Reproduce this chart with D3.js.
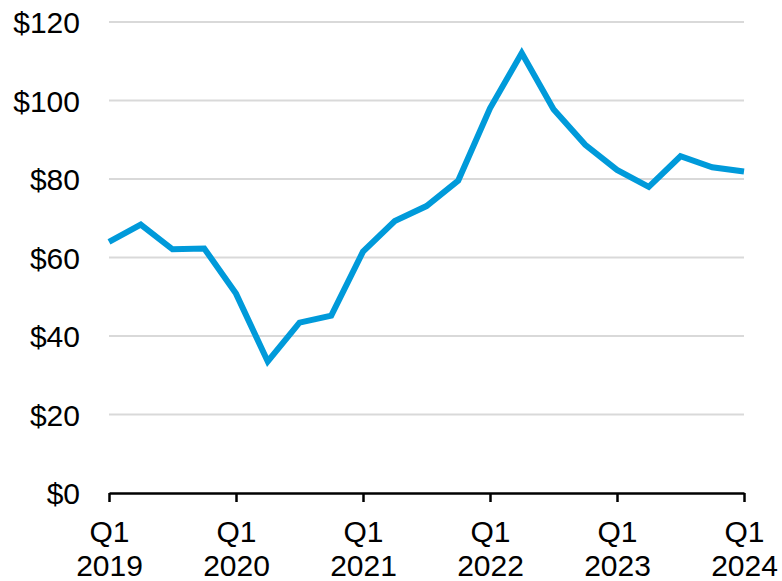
<!DOCTYPE html>
<html>
<head>
<meta charset="utf-8">
<script src="https://cdn.jsdelivr.net/npm/d3@7"></script>
<style>
  body { margin: 0; background: #fff; }
  svg text { font-family: "Liberation Sans", Arial, sans-serif; fill: #000; }
</style>
</head>
<body>
<div id="chart"></div>
<script>
// quarters from Q1 2019 to Q1 2024
const quarters = ["2019Q1","2019Q2","2019Q3","2019Q4","2020Q1","2020Q2","2020Q3","2020Q4",
  "2021Q1","2021Q2","2021Q3","2021Q4","2022Q1","2022Q2","2022Q3","2022Q4",
  "2023Q1","2023Q2","2023Q3","2023Q4","2024Q1"];
const prices = [64, 68.4, 62.1, 62.3, 50.8, 33.5, 43.4, 45.2,
  61.5, 69.3, 73.1, 79.6, 98, 112.1, 97.8, 88.7,
  82.3, 78, 85.8, 83, 81.9];
const yTicks = [0, 20, 40, 60, 80, 100, 120];
const xTickQuarters = ["2019Q1","2020Q1","2021Q1","2022Q1","2023Q1","2024Q1"];

const w = 782, h = 581;
const padL = 109, padR = 744, padT = 22, padB = 493;

const xScale = d3.scalePoint()
  .domain(quarters)
  .range([padL, padR]);
const yScale = d3.scaleLinear()
  .domain([0, 120])
  .range([padB, padT]);

const svg = d3.select("#chart")
  .append("svg")
  .attr("width", w)
  .attr("height", h);

//横のグリッド線
svg.append("g")
  .selectAll("line")
  .data(yTicks.filter(d => d > 0))
  .enter()
  .append("line")
  .attr("x1", padL)
  .attr("x2", padR)
  .attr("y1", d => yScale(d))
  .attr("y2", d => yScale(d))
  .attr("stroke", "#d9d9d9")
  .attr("stroke-width", 2);

const yAxis = d3.axisLeft(yScale)
  .tickValues(yTicks)
  .tickSize(0)
  .tickPadding(29)
  .tickFormat(d => "$" + d);

const gy = svg.append("g")
  .attr("transform", "translate(" + padL + ",0)")
  .call(yAxis);
gy.select(".domain").remove();
gy.selectAll("text")
  .style("font-size", "30px")
  .attr("dy", "0.35em");

const xAxis = d3.axisBottom(xScale)
  .tickValues(xTickQuarters)
  .tickSize(9)
  .tickSizeOuter(0)
  .tickFormat("");

const gx = svg.append("g")
  .attr("transform", "translate(0," + padB + ")")
  .call(xAxis);
gx.select(".domain")
  .attr("stroke", "#000")
  .attr("stroke-width", 2.5);
gx.selectAll(".tick line")
  .attr("stroke", "#000")
  .attr("stroke-width", 2.5);

//2行のラベル
const lab = gx.selectAll(".tick")
  .append("text")
  .attr("text-anchor", "middle")
  .style("font-size", "30px");
lab.append("tspan")
  .attr("x", 0)
  .attr("y", 49)
  .text(d => "Q" + d.slice(5));
lab.append("tspan")
  .attr("x", 0)
  .attr("y", 83)
  .text(d => d.slice(0, 4));

svg.append("path")
  .datum(prices)
  .attr("fill", "none")
  .attr("stroke", "#009ada")
  .attr("stroke-width", 6)
  .attr("stroke-linejoin", "miter")
  .attr("d", d3.line()
    .x((d, i) => xScale(quarters[i]))
    .y(d => yScale(d))
  );
</script>
</body>
</html>
